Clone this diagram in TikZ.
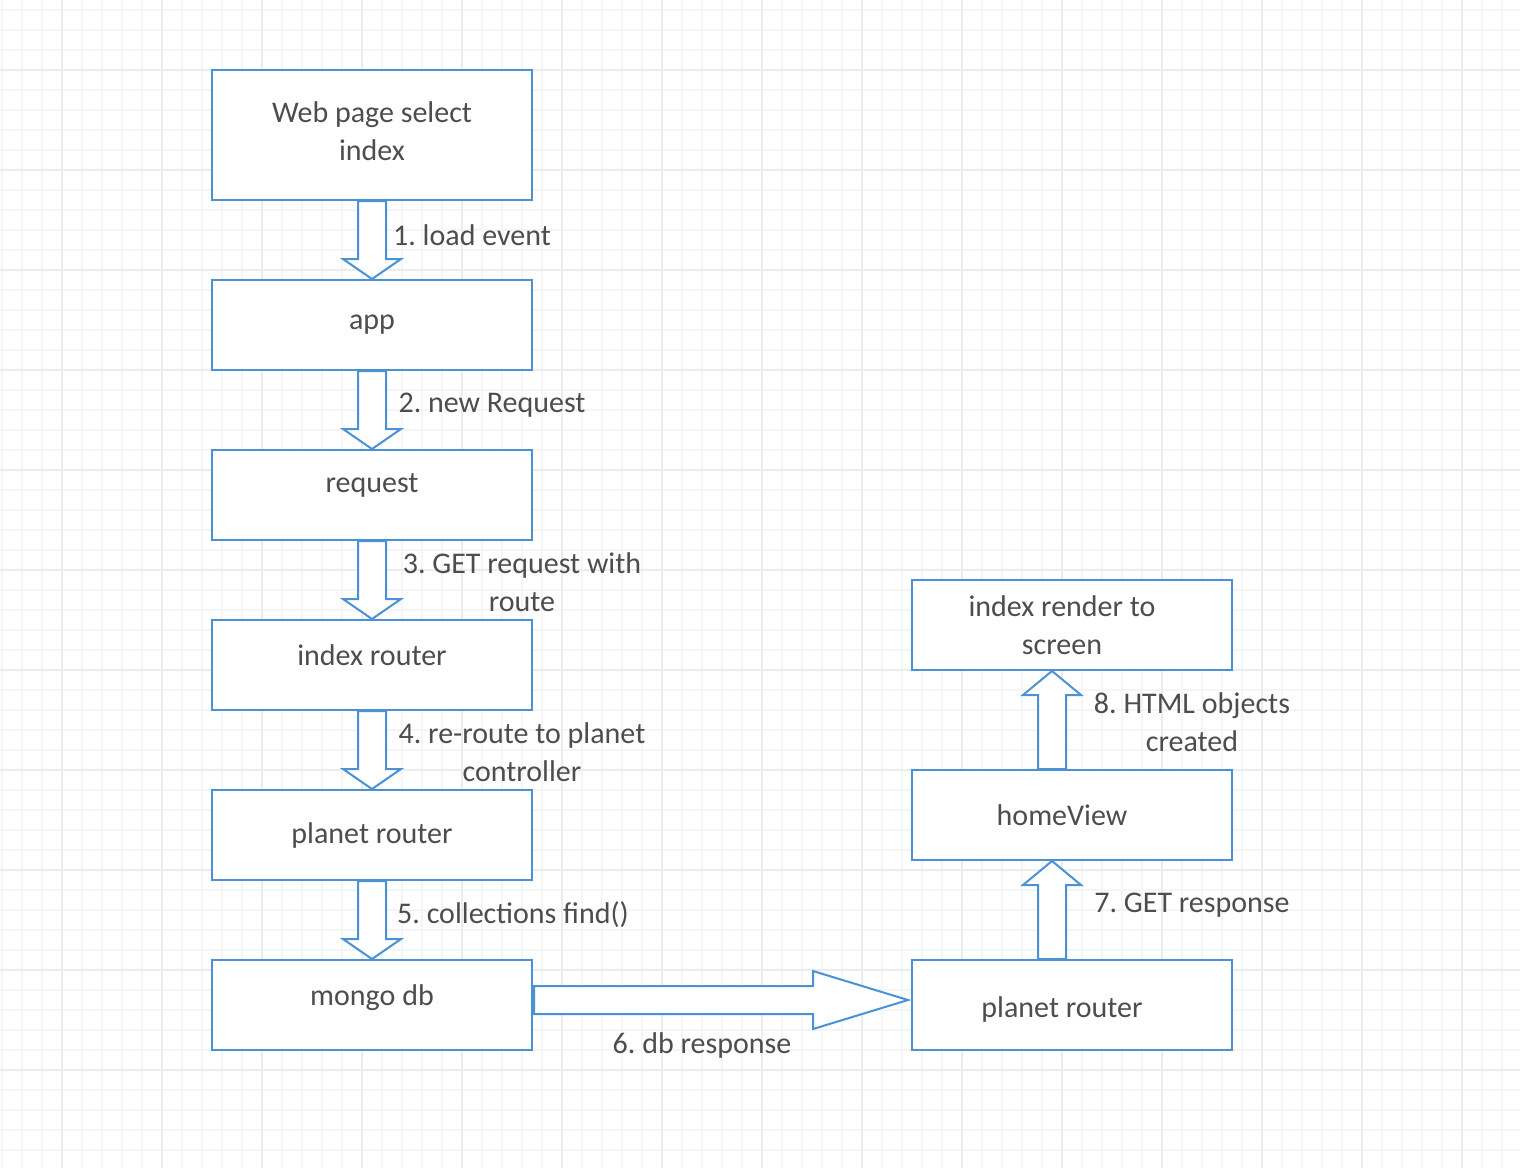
\documentclass[tikz,border=0pt]{standalone}
\usepackage{fontspec}
\setmainfont{Carlito}
\usetikzlibrary{positioning,calc}
\frenchspacing

\definecolor{flowblue}{RGB}{74,146,212}
\definecolor{labelgray}{RGB}{77,77,77}
\definecolor{gridminor}{RGB}{245,245,245}
\definecolor{gridmajor}{RGB}{236,236,236}

\tikzset{
  stepbox/.style={draw=flowblue, line width=2pt, fill=white, minimum width=320pt,
    minimum height=90pt, inner sep=0pt, align=center, text=labelgray,
    font=\fontsize{30}{38}\selectfont},
  blockline/.style={draw=flowblue, line width=2pt, fill=white, line join=miter},
  lbl/.style={text=labelgray, align=center, inner sep=0pt, font=\fontsize{30}{38}\selectfont},
}

% fat arrow from #2 to #3, #1 = head length
\newcommand\blockarrow[3][20pt]{%
  \path ($(#3)!#1!(#2)$) coordinate (hb);
  \draw[blockline] ($(#2)!14pt!90:(#3)$) -- ($(hb)!14pt!90:(#3)$)
    -- ($(hb)!29pt!90:(#3)$) -- (#3) -- ($(hb)!29pt!-90:(#3)$)
    -- ($(hb)!14pt!-90:(#3)$) -- ($(#2)!14pt!-90:(#3)$) -- cycle;}
% text a bit left of the box centre
\newcommand\padr[1]{#1\hspace*{20pt}}

\begin{document}
\begin{tikzpicture}[x=1pt,y=-1pt,node distance=78pt]
    \useasboundingbox (0,0) rectangle (1520,1168);
    \fill[white] (0,0) rectangle (1520,1168);
    % grid
    \foreach \x in {2,22,...,1520}
        \draw[gridminor,line width=1.5pt] (\x,0) -- (\x,1168);
    \foreach \y in {10,30,...,1168}
        \draw[gridminor,line width=1.5pt] (0,\y) -- (1520,\y);
    \foreach \x in {62,162,...,1520}
        \draw[gridmajor,line width=1.5pt] (\x,0) -- (\x,1168);
    \foreach \y in {70,170,...,1168}
        \draw[gridmajor,line width=1.5pt] (0,\y) -- (1520,\y);

    % left column
    \node[stepbox,minimum height=130pt,text depth=8pt] (web) at (372,135) {Web page select\\index};
    \node[stepbox,below=of web] (app) {app};
    \node[stepbox,below=of app,text depth=24pt] (request) {request};
    \node[stepbox,below=of request,text depth=20pt] (indexrouter) {index router};
    \node[stepbox,below=of indexrouter] (planetrouter) {planet router};
    \node[stepbox,below=of planetrouter,text depth=20pt] (mongodb) {mongo db};

    % right column
    \node[stepbox,text height=29pt] (planetback) at (1072,1005) {\padr{planet router}};
    \node[stepbox,above=98pt of planetback] (homeview) {\padr{homeView}};
    \node[stepbox,above=98pt of homeview] (render) {\padr{index render to}\\\padr{screen}};

    \blockarrow{web.south}{app.north}
    \blockarrow{app.south}{request.north}
    \blockarrow{request.south}{indexrouter.north}
    \blockarrow{indexrouter.south}{planetrouter.north}
    \blockarrow{planetrouter.south}{mongodb.north}

    \coordinate (right6a) at ($(mongodb.east)+(1,-5)$);
    \coordinate (right6b) at ($(planetback.west)+(-3,-5)$);
    \blockarrow[95pt]{right6a}{right6b}

    \coordinate (up7a) at ($(planetback.north)+(-20,0)$);
    \coordinate (up7b) at ($(homeview.south)+(-20,0)$);
    \coordinate (up8a) at ($(homeview.north)+(-20,0)$);
    \coordinate (up8b) at ($(render.south)+(-20,0)$);
    \blockarrow[24pt]{up7a}{up7b}
    \blockarrow[24pt]{up8a}{up8b}

    % labels
    \node[lbl] (l1) at (472,235) {1. load event};
    \node[lbl] (l2) at (492,405) {2. new Request};
    \node[lbl] (l3) at (522,582) {3. GET request with\\route};
    \node[lbl] (l4) at (522,752) {4. re-route to planet\\controller};
    \node[lbl] (l5) at (513,915) {5. collections find()};
    \node[lbl] (l6) at (702,1045) {6. db response};
    \node[lbl] (l7) at (1192,905) {7. GET response};
    \node[lbl] (l8) at (1192,722) {8. HTML objects\\created};
\end{tikzpicture}
\end{document}
